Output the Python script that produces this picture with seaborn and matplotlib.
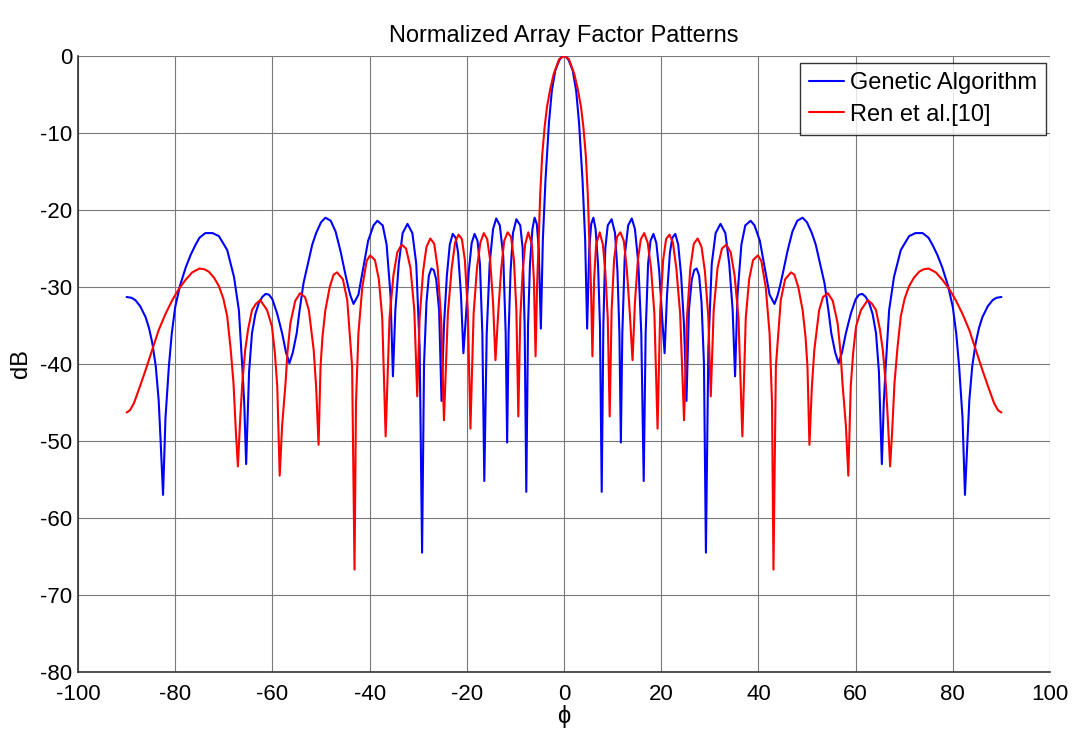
import numpy as np
import pandas as pd
import matplotlib
matplotlib.use("Agg")
import matplotlib.pyplot as plt
import seaborn as sns

# Half patterns (0..90 deg); the pattern is symmetric about 0
ga_phi = [0, 0.5, 1.0, 1.8, 2.5, 3.1, 3.8, 4.35, 4.76, 5.2, 5.6, 6.05, 6.5, 7.0, 7.4, 7.76,
          8.1, 8.5, 9.0, 9.8, 10.5, 11.0, 11.4, 11.7, 12.0, 12.5, 13.2, 13.95, 14.6, 15.3, 15.9, 16.4,
          16.8, 17.3, 17.8, 18.4, 19.0, 19.6, 20.2, 20.7, 21.2, 21.8, 22.3, 22.9, 23.5, 24.1, 24.7, 25.2,
          25.7, 26.3, 26.8, 27.3, 27.8, 28.3, 28.8, 29.2, 29.7, 30.4, 31.2, 32.2, 33.2, 34.0, 34.7, 35.2,
          35.7, 36.5, 37.3, 38.4, 39.2, 40.3, 41.3, 42.3, 43.3, 43.9, 44.4, 45.0, 46.0, 47.0, 48.0, 49.1,
          50.0, 51.0, 51.8, 52.7, 53.6, 54.4, 55.0, 55.8, 56.5, 57.2, 58.0, 59.0, 60.0, 60.7, 61.4, 62.1,
          62.8, 63.5, 64.2, 64.8, 65.4, 65.8, 66.2, 66.9, 67.9, 69.3, 71.0, 72.3, 73.8, 75.0, 75.8, 76.8,
          77.8, 79.0, 80.0, 80.7, 81.3, 82.0, 82.5, 83.0, 83.4, 84.0, 84.7, 85.4, 86.1, 87.2, 88.2, 89.0, 90.0]
ga_db = [0, -0.15, -0.6, -1.9, -4.5, -8.7, -16.0, -23.8, -35.4, -25.0, -21.8, -21.0, -22.5, -27.0, -35.0, -56.6,
         -35.0, -25.0, -22.0, -21.2, -23.0, -28.0, -36.0, -50.2, -36.0, -26.0, -22.0, -21.1, -22.5, -27.0, -36.0, -55.2,
         -36.0, -27.0, -24.0, -23.1, -24.3, -28.0, -34.0, -38.6, -31.0, -25.5, -23.6, -23.1, -24.5, -28.5, -35.0, -44.8,
         -33.0, -29.0, -27.8, -27.6, -28.5, -32.0, -40.0, -64.5, -38.0, -27.0, -23.0, -21.8, -23.0, -27.0, -33.0, -41.6,
         -31.0, -24.5, -22.0, -21.4, -22.0, -24.0, -27.5, -31.0, -32.2, -31.2, -30.0, -28.3, -25.3, -22.8, -21.4, -21.0,
         -21.6, -23.0, -24.5, -27.0, -29.5, -33.0, -36.0, -38.5, -39.9, -38.5, -36.0, -33.5, -31.6, -31.0, -30.9, -31.3,
         -32.1, -33.5, -36.0, -41.0, -53.0, -45.0, -40.3, -33.0, -28.7, -25.2, -23.4, -23.0, -23.0, -23.6, -24.5, -25.8,
         -27.4, -29.8, -32.6, -36.0, -40.3, -47.0, -57.0, -50.0, -44.7, -40.3, -37.3, -35.3, -33.9, -32.5, -31.7, -31.4, -31.3]

ren_phi = [0, 1.0, 2.1, 2.8, 3.5, 4.0, 4.5, 4.9, 5.2, 5.55, 5.85, 6.2, 6.6, 7.35, 8.0, 8.5, 9.0, 9.4,
           9.8, 10.3, 10.9, 11.6, 12.3, 12.9, 13.5, 14.1, 14.6, 15.2, 15.8, 16.5, 17.2, 17.9, 18.6, 19.25,
           19.8, 20.4, 21.0, 21.7, 22.4, 23.1, 23.9, 24.7, 25.3, 26.0, 26.7, 27.5, 28.3, 29.0, 29.7, 30.2,
           30.8, 31.6, 32.5, 33.4, 34.3, 35.1, 35.9, 36.7, 37.4, 38.1, 38.9, 39.9, 40.6, 41.5, 42.3, 42.8, 43.1,
           43.6, 44.6, 45.5, 46.7, 47.4, 48.2, 49.1, 49.7, 50.1, 50.5, 51.0, 51.5, 52.5, 53.3, 54.3, 55.3,
           56.3, 56.9, 57.3, 58.0, 58.5, 59.0, 59.5, 60.1, 61.1, 62.5, 63.4, 64.2, 65.0, 65.6, 66.2, 66.6,
           67.1, 67.5, 68.0, 68.6, 69.3, 70.1, 71.0, 72.0, 73.1, 74.0, 75.0, 76.5, 77.9, 79.3, 80.6, 82.0,
           83.4, 84.7, 86.1, 87.3, 88.5, 89.3, 90.0]
ren_db = [0, -0.4, -2.3, -4.2, -6.6, -9.3, -13.0, -18.0, -23.8, -30.0, -39.0, -29.0, -24.5, -22.9, -24.5, -28.0, -34.0, -46.8,
          -33.0, -26.5, -23.5, -22.9, -24.0, -27.5, -33.0, -39.5, -32.0, -26.5, -23.8, -23.0, -24.2, -27.5, -33.5, -48.4,
          -33.0, -26.5, -23.8, -23.2, -24.2, -27.5, -33.5, -47.3, -34.0, -27.5, -24.4, -23.7, -24.8, -28.0, -34.0, -44.2,
          -33.0, -27.5, -25.0, -24.5, -25.5, -28.5, -34.0, -49.4, -34.0, -29.0, -26.5, -25.9, -26.6, -30.0, -36.0, -45.0, -66.7,
          -40.3, -31.7, -29.0, -28.1, -28.4, -30.0, -33.0, -36.5, -40.4, -50.5, -43.0, -38.2, -33.0, -31.3, -30.8, -31.8,
          -34.7, -38.5, -42.5, -48.0, -54.5, -42.9, -38.5, -35.1, -33.0, -31.7, -32.2, -33.0, -35.5, -38.2, -42.5, -46.8,
          -53.3, -49.0, -42.5, -38.0, -33.8, -31.5, -29.9, -28.8, -28.0, -27.7, -27.6, -28.1, -29.1, -30.3, -31.7, -33.5,
          -35.6, -38.1, -40.8, -43.0, -45.1, -46.0, -46.3]

series_names = ["Genetic Algorithm", "Ren et al.[10]"]
x_ticks = [-100, -80, -60, -40, -20, 0, 20, 40, 60, 80, 100]
y_ticks = [0, -10, -20, -30, -40, -50, -60, -70, -80]


def mirror(phi, db):
    p = np.asarray(phi, float)
    d = np.asarray(db, float)
    return np.concatenate([-p[:0:-1], p]), np.concatenate([d[:0:-1], d])


gp, gd = mirror(ga_phi, ga_db)
rp, rd = mirror(ren_phi, ren_db)
df = pd.concat([
    pd.DataFrame({"phi": gp, "dB": gd, "series": series_names[0]}),
    pd.DataFrame({"phi": rp, "dB": rd, "series": series_names[1]}),
], ignore_index=True)

sns.set_style("white")
plt.rcParams["font.family"] = ["Liberation Sans", "DejaVu Sans"]
plt.rcParams["axes.unicode_minus"] = False
plt.rcParams["text.color"] = "black"
plt.rcParams["axes.labelcolor"] = "black"

fig = plt.figure(figsize=(10.75, 7.31), dpi=100)
ax = fig.add_axes([78 / 1075, 1 - 672 / 731, (1050 - 78) / 1075, (672 - 56) / 731])

sns.lineplot(data=df, x="phi", y="dB", hue="series", palette=["#0000ff", "#ff0000"],
             linewidth=1.5, ax=ax, sort=False, estimator=None)

ax.set_xlim(-100, 100)
ax.set_ylim(-80, 0)
ax.set_xticks(x_ticks)
ax.set_yticks(y_ticks)
ax.set_xticklabels([str(v) for v in x_ticks])
ax.set_yticklabels([str(v) for v in y_ticks])
ax.grid(True, color="#7a7a7a", linewidth=0.8)
ax.tick_params(direction="in", length=7, width=1, colors="black", labelsize=16)
ax.tick_params(axis="x", pad=9)
ax.tick_params(axis="y", pad=4)
for s in ["top", "right"]:
    ax.spines[s].set_visible(False)
for s in ["left", "bottom"]:
    ax.spines[s].set_color("#333333")
    ax.spines[s].set_linewidth(1.2)

ax.set_title("Normalized Array Factor Patterns", fontsize=17, pad=10, color="black")
ax.set_xlabel("ϕ", fontsize=17, labelpad=0)
ax.set_ylabel("dB", fontsize=17, labelpad=6)

leg = ax.legend(loc="upper right", fontsize=17, frameon=True, fancybox=False,
                edgecolor="black", handlelength=1.45, handletextpad=0.25,
                borderpad=0.4, labelspacing=0.4, borderaxespad=0,
                bbox_to_anchor=(1046 / 1075, 1 - 62.7 / 731), bbox_transform=fig.transFigure)
leg.get_frame().set_linewidth(1.0)
for t in leg.get_texts():
    t.set_color("black")

fig.savefig("out.png", dpi=100)
